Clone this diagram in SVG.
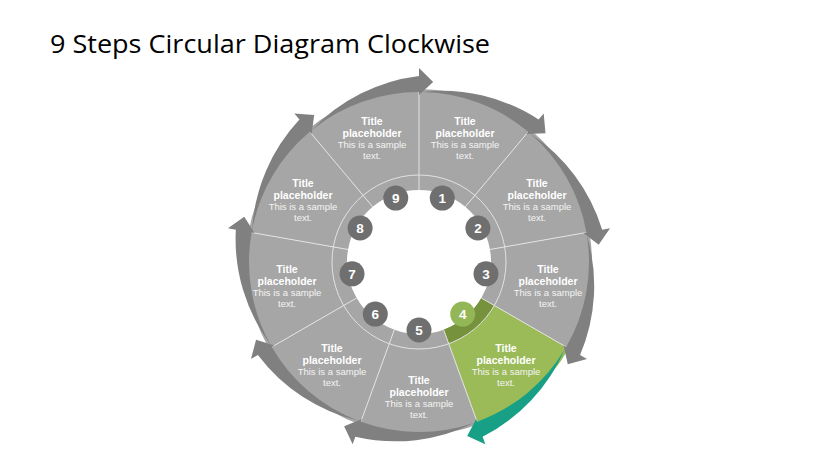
<svg xmlns="http://www.w3.org/2000/svg" xmlns:xlink="http://www.w3.org/1999/xlink" width="835" height="470" viewBox="0 0 835 470">
<style>
.seg{fill:#A6A6A6}
.green{fill:#9BBB59}
.gband{fill:#76923C}
.num{fill:#6F6F6F}
.numg{fill:#93B756}
.ntxt{font-family:"Liberation Sans",Arial,sans-serif;font-weight:bold;font-size:13.5px;fill:#FFFFFF;text-anchor:middle}
.lbl{font-family:"Liberation Sans",Arial,sans-serif;text-anchor:middle;fill:#FFFFFF}
.t{font-weight:bold;font-size:10.5px}
.b{font-size:9.5px;fill:#F4F4F4}
.div{stroke:#E2E2E2;stroke-width:1;fill:none}
.arw{fill:#808080}
.arwt{fill:#17A085}
.title{font-family:"Open Sans","Liberation Sans",sans-serif;font-size:25px;fill:#000000}
</style>
<defs>
<path id="arr" d="M -106.98 -132.11 A 177 177 0 0 1 0 -186 L 0 -194 L 14.16 -179.94 L 0 -167 L 0 -170 A 170 170 0 0 0 -106.98 -132.11 Z"/>
</defs>
<rect width="835" height="470" fill="#FFFFFF"/>
<text class="title" x="50" y="53" textLength="440" lengthAdjust="spacingAndGlyphs">9 Steps Circular Diagram Clockwise</text>

<g id="node1">
<path class="seg" d="M419,89 A173,173 0 0 1 530.2,129.48 L465.28,206.85 A72,72 0 0 0 419,190 Z"/>
<circle class="num" cx="442.26" cy="198.1" r="12.5"/>
<text class="ntxt" x="442.26" y="202.9">1</text>
<text class="lbl" x="465" y="125"><tspan class="t" x="465">Title</tspan><tspan class="t" x="465" dy="11.5">placeholder</tspan><tspan class="b" x="465" dy="11.5">This is a sample</tspan><tspan class="b" x="465" dy="11">text.</tspan></text>
</g>
<g id="node2">
<path class="seg" d="M530.2,129.48 A173,173 0 0 1 589.37,231.97 L489.91,249.5 A72,72 0 0 0 465.28,206.85 Z"/>
<circle class="num" cx="477.89" cy="228" r="12.5"/>
<text class="ntxt" x="477.89" y="232.8">2</text>
<text class="lbl" x="537" y="187"><tspan class="t" x="537">Title</tspan><tspan class="t" x="537" dy="11.5">placeholder</tspan><tspan class="b" x="537" dy="11.5">This is a sample</tspan><tspan class="b" x="537" dy="11">text.</tspan></text>
</g>
<g id="node3">
<path class="seg" d="M589.37,231.97 A173,173 0 0 1 568.82,348.5 L481.35,298 A72,72 0 0 0 489.91,249.5 Z"/>
<circle class="num" cx="485.97" cy="273.81" r="12.5"/>
<text class="ntxt" x="485.97" y="278.6">3</text>
<text class="lbl" x="548" y="273"><tspan class="t" x="548">Title</tspan><tspan class="t" x="548" dy="11.5">placeholder</tspan><tspan class="b" x="548" dy="11.5">This is a sample</tspan><tspan class="b" x="548" dy="11">text.</tspan></text>
</g>
<g id="node4">
<path class="green" d="M568.82,348.5 A173,173 0 0 1 478.17,424.57 L443.62,329.66 A72,72 0 0 0 481.35,298 Z"/>
<path class="gband" d="M494.34,305.5 A87,87 0 0 1 448.75,343.75 L443.62,329.66 A72,72 0 0 0 481.35,298 Z"/>
<circle class="numg" cx="462.71" cy="314.09" r="12.5"/>
<text class="ntxt" x="462.71" y="318.9">4</text>
<text class="lbl" x="506" y="352"><tspan class="t" x="506">Title</tspan><tspan class="t" x="506" dy="11.5">placeholder</tspan><tspan class="b" x="506" dy="11.5">This is a sample</tspan><tspan class="b" x="506" dy="11">text.</tspan></text>
</g>
<g id="node5">
<path class="seg" d="M478.17,424.57 A173,173 0 0 1 359.83,424.57 L394.38,329.66 A72,72 0 0 0 443.62,329.66 Z"/>
<circle class="num" cx="419" cy="330" r="12.5"/>
<text class="ntxt" x="419" y="334.8">5</text>
<text class="lbl" x="419" y="384"><tspan class="t" x="419">Title</tspan><tspan class="t" x="419" dy="11.5">placeholder</tspan><tspan class="b" x="419" dy="11.5">This is a sample</tspan><tspan class="b" x="419" dy="11">text.</tspan></text>
</g>
<g id="node6">
<path class="seg" d="M359.83,424.57 A173,173 0 0 1 269.18,348.5 L356.65,298 A72,72 0 0 0 394.38,329.66 Z"/>
<circle class="num" cx="375.29" cy="314.09" r="12.5"/>
<text class="ntxt" x="375.29" y="318.9">6</text>
<text class="lbl" x="332" y="352"><tspan class="t" x="332">Title</tspan><tspan class="t" x="332" dy="11.5">placeholder</tspan><tspan class="b" x="332" dy="11.5">This is a sample</tspan><tspan class="b" x="332" dy="11">text.</tspan></text>
</g>
<g id="node7">
<path class="seg" d="M269.18,348.5 A173,173 0 0 1 248.63,231.97 L348.09,249.5 A72,72 0 0 0 356.65,298 Z"/>
<circle class="num" cx="352.03" cy="273.81" r="12.5"/>
<text class="ntxt" x="352.03" y="278.6">7</text>
<text class="lbl" x="287" y="273"><tspan class="t" x="287">Title</tspan><tspan class="t" x="287" dy="11.5">placeholder</tspan><tspan class="b" x="287" dy="11.5">This is a sample</tspan><tspan class="b" x="287" dy="11">text.</tspan></text>
</g>
<g id="node8">
<path class="seg" d="M248.63,231.97 A173,173 0 0 1 307.8,129.48 L372.72,206.85 A72,72 0 0 0 348.09,249.5 Z"/>
<circle class="num" cx="360.11" cy="228" r="12.5"/>
<text class="ntxt" x="360.11" y="232.8">8</text>
<text class="lbl" x="303" y="187"><tspan class="t" x="303">Title</tspan><tspan class="t" x="303" dy="11.5">placeholder</tspan><tspan class="b" x="303" dy="11.5">This is a sample</tspan><tspan class="b" x="303" dy="11">text.</tspan></text>
</g>
<g id="node9">
<path class="seg" d="M307.8,129.48 A173,173 0 0 1 419,89 L419,190 A72,72 0 0 0 372.72,206.85 Z"/>
<circle class="num" cx="395.74" cy="198.1" r="12.5"/>
<text class="ntxt" x="395.74" y="202.9">9</text>
<text class="lbl" x="372" y="125"><tspan class="t" x="372">Title</tspan><tspan class="t" x="372" dy="11.5">placeholder</tspan><tspan class="b" x="372" dy="11.5">This is a sample</tspan><tspan class="b" x="372" dy="11">text.</tspan></text>
</g>

<g id="dividers" class="div">
<circle cx="419" cy="262" r="87"/>
<line x1="419" y1="190" x2="419" y2="89"/>
<line x1="465.28" y1="206.85" x2="530.2" y2="129.48"/>
<line x1="489.91" y1="249.5" x2="589.37" y2="231.97"/>
<line x1="481.35" y1="298" x2="568.82" y2="348.5"/>
<line x1="443.62" y1="329.66" x2="478.17" y2="424.57"/>
<line x1="394.38" y1="329.66" x2="359.83" y2="424.57"/>
<line x1="356.65" y1="298" x2="269.18" y2="348.5"/>
<line x1="348.09" y1="249.5" x2="248.63" y2="231.97"/>
<line x1="372.72" y1="206.85" x2="307.8" y2="129.48"/>
</g>

<g id="connectors">
<use xlink:href="#arr" class="arw" transform="translate(419 262) rotate(200)"/>
<use xlink:href="#arr" class="arw" transform="translate(419 262) rotate(240)"/>
<use xlink:href="#arr" class="arw" transform="translate(419 262) rotate(280)"/>
<use xlink:href="#arr" class="arw" transform="translate(419 262) rotate(320)"/>
<use xlink:href="#arr" class="arw" transform="translate(419 262) rotate(0)"/>
<use xlink:href="#arr" class="arw" transform="translate(419 262) rotate(40)"/>
<use xlink:href="#arr" class="arw" transform="translate(419 262) rotate(80)"/>
<use xlink:href="#arr" class="arw" transform="translate(419 262) rotate(120)"/>
<use xlink:href="#arr" class="arwt" transform="translate(419 262) rotate(160)"/>
</g>
</svg>
